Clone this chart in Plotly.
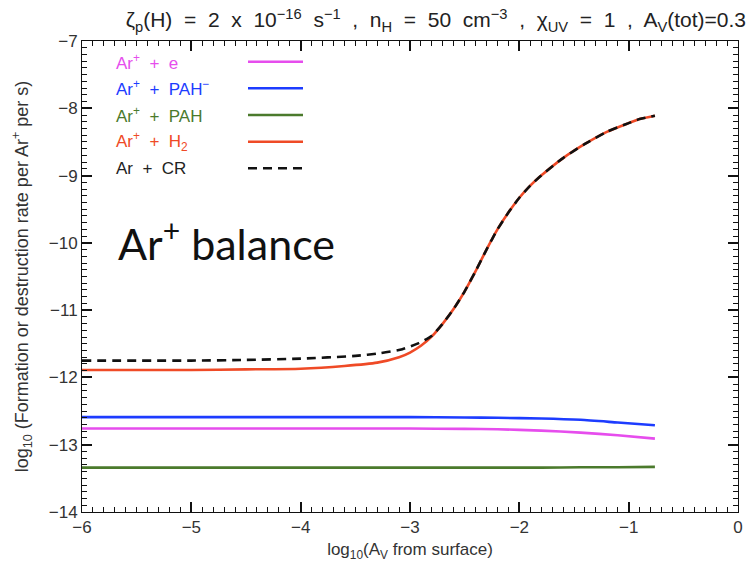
import plotly.graph_objects as go

# Depth grid (log10 Av from surface) and rate curves (log10 rate per Ar+ per s)
av_h2 = [-6.0, -5.0, -4.5, -4.0, -3.6, -3.3, -3.1, -3.0, -2.9, -2.8, -2.7, -2.6, -2.5,
         -2.4, -2.3, -2.2, -2.1, -2.0, -1.9, -1.8, -1.6, -1.4, -1.2, -1.0, -0.9, -0.76]
rate_h2 = [-11.89, -11.89, -11.88, -11.87, -11.83, -11.78, -11.7, -11.63, -11.53, -11.39,
           -11.2, -10.98, -10.72, -10.42, -10.1, -9.8, -9.55, -9.33, -9.15, -9.0, -8.74,
           -8.53, -8.35, -8.22, -8.16, -8.11]

av_cr = [-6.0, -5.0, -4.5, -4.0, -3.5, -3.27, -3.07, -2.92, -2.8, -2.7, -2.6, -2.5,
         -2.4, -2.3, -2.2, -2.1, -2.0, -1.9, -1.8, -1.6, -1.4, -1.2, -1.0, -0.9, -0.76]
rate_cr = [-11.75, -11.75, -11.74, -11.72, -11.68, -11.64, -11.58, -11.49, -11.38, -11.2,
           -10.98, -10.72, -10.42, -10.1, -9.8, -9.55, -9.33, -9.15, -9.0, -8.74,
           -8.53, -8.35, -8.22, -8.16, -8.11]

av_flat = [-6.0, -5.0, -4.0, -3.0, -2.5, -2.2, -1.8, -1.44, -1.1, -0.76]
rate_pahm = [-12.59, -12.59, -12.59, -12.59, -12.595, -12.6, -12.61, -12.63, -12.67, -12.71]
rate_e = [-12.76, -12.76, -12.76, -12.76, -12.765, -12.77, -12.79, -12.82, -12.86, -12.91]
rate_pah = [-13.34, -13.34, -13.34, -13.34, -13.34, -13.34, -13.34, -13.335, -13.335, -13.33]

x_range = [-6, 0]
y_range = [-14, -7]

series = [
    ("Ar<sup>+</sup>  +  e", av_flat, rate_e, "#e64ded", "solid"),
    ("Ar<sup>+</sup>  +  PAH<sup>−</sup>", av_flat, rate_pahm, "#1d3cff", "solid"),
    ("Ar<sup>+</sup>  +  PAH", av_flat, rate_pah, "#4b7a2c", "solid"),
    ("Ar<sup>+</sup>  +  H<sub>2</sub>", av_h2, rate_h2, "#ef4a26", "solid"),
    ("Ar  +  CR", av_cr, rate_cr, "#111111", "dash"),
]

W, H = 751, 562
ML, MR, MT, MB = 82, 13, 41, 50
PW, PH = W - ML - MR, H - MT - MB


def px(x):
    return (x - ML) / PW


def py(y):
    return (H - MB - y) / PH


DASH = "9px,6px"
FONT = "Liberation Sans, Arial, sans-serif"

fig = go.Figure()
for name, xs, ys, col, dash in series:
    fig.add_trace(go.Scatter(
        x=xs, y=ys, mode="lines", name=name, showlegend=False,
        line=dict(color=col, width=2.6, dash=DASH if dash == "dash" else "solid",
                  shape="spline", smoothing=0.6),
    ))

# key: coloured label on the left, line sample on the right
row_y = [61.7, 88.3, 115.0, 141.7, 168.3]
for (name, xs, ys, col, dash), ry in zip(series, row_y):
    fig.add_annotation(
        xref="paper", yref="paper", x=px(114), y=py(ry),
        text=name, showarrow=False, xanchor="left", yanchor="middle",
        font=dict(family=FONT, size=17, color="#222222" if dash == "dash" else col),
    )
    fig.add_shape(
        type="line", xref="paper", yref="paper",
        x0=px(248), x1=px(303), y0=py(ry), y1=py(ry),
        line=dict(color=col, width=2.6, dash=DASH if dash == "dash" else "solid"),
    )

fig.add_annotation(
    xref="paper", yref="paper", x=px(116), y=py(240),
    text="Ar<sup>+</sup> balance", showarrow=False, xanchor="left", yanchor="middle",
    font=dict(family="Lato, Open Sans, sans-serif", size=43, color="#111111"),
)

axis_style = dict(
    showline=True, linecolor="#111111", linewidth=1, mirror="ticks",
    ticks="inside", ticklen=10, tickwidth=2, tickcolor="#111111",
    showgrid=True, gridcolor="rgba(0,0,0,0)", zeroline=False,
    tickmode="linear", dtick=1, automargin=False,
    tickfont=dict(family=FONT, size=17, color="#333333"),
    minor=dict(ticks="inside", ticklen=5, tickwidth=1, tickcolor="#111111", dtick=0.1),
)

fig.update_xaxes(
    range=x_range,
    title=dict(text="log<sub>10</sub>(A<sub>V</sub> from surface)",
               font=dict(family=FONT, size=17, color="#333333")),
    **axis_style,
)
fig.update_yaxes(
    range=y_range,
    title=dict(text="log<sub>10</sub> (Formation or destruction rate per Ar<sup>+</sup> per s)",
               font=dict(family=FONT, size=18, color="#333333")),
    **axis_style,
)

fig.update_layout(
    width=W, height=H,
    margin=dict(l=ML, r=MR, t=MT, b=MB),
    paper_bgcolor="white", plot_bgcolor="white",
    title=dict(
        text="ζ<sub>p</sub>(H)  =  2  x  10<sup>−16</sup>  s<sup>−1</sup>  ,  n<sub>H</sub>  =  50  cm<sup>−3</sup>"
             "  ,  χ<sub>UV</sub>  =  1  ,  A<sub>V</sub>(tot)=0.3",
        x=746 / W, xanchor="right", xref="container",
        y=1 - 20 / H, yanchor="middle", yref="container",
        font=dict(family=FONT, size=21, color="#222222"),
    ),
)

fig.write_html("out.html")
